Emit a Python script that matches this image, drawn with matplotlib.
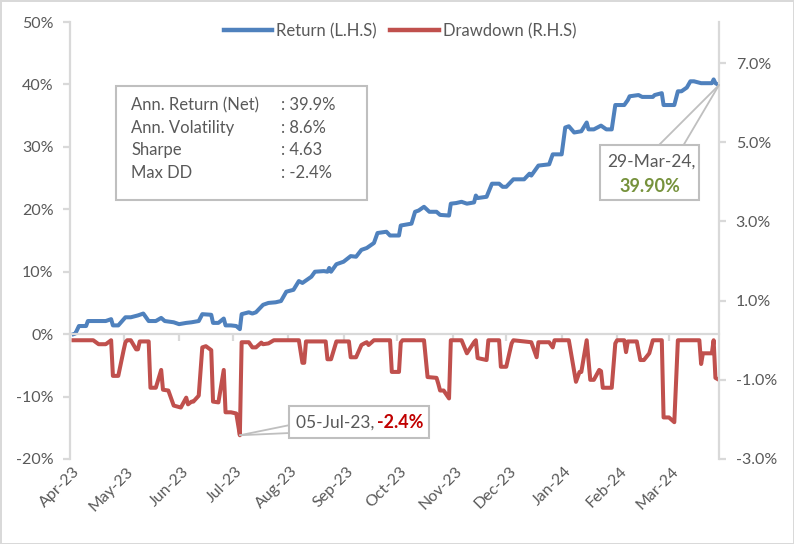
import matplotlib
matplotlib.use("Agg")
import matplotlib.pyplot as plt
import matplotlib.dates as mdates
import matplotlib.transforms as mtransforms
from matplotlib.patches import Rectangle, ConnectionPatch
from matplotlib.lines import Line2D
import pandas as pd

plt.rcParams['font.family'] = ['Lato', 'DejaVu Sans']
plt.rcParams['axes.unicode_minus'] = False

# cumulative return, % (left axis)
ret_dates = ['2023-04-03', '2023-04-04', '2023-04-06', '2023-04-10', '2023-04-11', '2023-04-21',
             '2023-04-24', '2023-04-25', '2023-04-28', '2023-05-02', '2023-05-05', '2023-05-09',
             '2023-05-12', '2023-05-15', '2023-05-19', '2023-05-22', '2023-05-24', '2023-05-29',
             '2023-06-01', '2023-06-05', '2023-06-08', '2023-06-12', '2023-06-14', '2023-06-19',
             '2023-06-20', '2023-06-23', '2023-06-26', '2023-06-27', '2023-06-30', '2023-07-03',
             '2023-07-05', '2023-07-06', '2023-07-10', '2023-07-12', '2023-07-14', '2023-07-18',
             '2023-07-21', '2023-07-25', '2023-07-28', '2023-07-31', '2023-08-04', '2023-08-07',
             '2023-08-09', '2023-08-14', '2023-08-16', '2023-08-21', '2023-08-23', '2023-08-24',
             '2023-08-25', '2023-08-28', '2023-09-01', '2023-09-05', '2023-09-08', '2023-09-11',
             '2023-09-14', '2023-09-18', '2023-09-20', '2023-09-25', '2023-09-27', '2023-10-02',
             '2023-10-03', '2023-10-09', '2023-10-11', '2023-10-13', '2023-10-16', '2023-10-19',
             '2023-10-23', '2023-10-25', '2023-10-30', '2023-10-31', '2023-11-03', '2023-11-06',
             '2023-11-09', '2023-11-13', '2023-11-14', '2023-11-15', '2023-11-20', '2023-11-23',
             '2023-11-27', '2023-11-29', '2023-12-01', '2023-12-05', '2023-12-11', '2023-12-14',
             '2023-12-15', '2023-12-19', '2023-12-25', '2023-12-27', '2024-01-01', '2024-01-03',
             '2024-01-05', '2024-01-08', '2024-01-12', '2024-01-15', '2024-01-16', '2024-01-19',
             '2024-01-23', '2024-01-26', '2024-01-29', '2024-01-31', '2024-02-05', '2024-02-07',
             '2024-02-08', '2024-02-13', '2024-02-15', '2024-02-21', '2024-02-22', '2024-02-26',
             '2024-02-27', '2024-03-04', '2024-03-06', '2024-03-08', '2024-03-11', '2024-03-13',
             '2024-03-15', '2024-03-19', '2024-03-25', '2024-03-26', '2024-03-27', '2024-03-29']
ret_vals = [0.0, 0.1, 1.3, 1.3, 2.1, 2.1,
            2.4, 1.4, 1.4, 2.7, 2.7, 3.0,
            3.3, 2.1, 2.1, 2.6, 2.1, 1.9,
            1.6, 1.8, 1.9, 2.1, 3.2, 3.1,
            1.8, 1.8, 2.5, 1.4, 1.4, 1.3,
            0.8, 3.2, 3.5, 3.3, 3.5, 4.7,
            5.0, 5.1, 5.3, 6.8, 7.1, 8.5,
            8.2, 9.2, 10.0, 10.1, 10.0, 10.6,
            10.0, 11.2, 11.6, 12.5, 12.4, 13.5,
            13.8, 14.6, 16.2, 16.4, 15.8, 15.8,
            17.4, 17.7, 19.6, 19.8, 20.4, 19.6,
            19.6, 19.1, 19.0, 20.9, 21.0, 21.2,
            20.9, 21.1, 22.2, 21.8, 22.0, 24.1,
            24.1, 23.6, 23.6, 24.8, 24.8, 25.7,
            25.4, 27.0, 27.2, 28.8, 28.8, 33.1,
            33.3, 32.3, 32.5, 33.9, 32.8, 32.8,
            33.4, 32.8, 32.8, 36.7, 36.7, 37.5,
            38.1, 38.3, 38.0, 38.0, 38.3, 38.6,
            36.7, 36.7, 38.9, 38.9, 39.5, 40.5,
            40.5, 40.2, 40.2, 40.8, 40.2, 39.9]

# drawdown, % (right axis)
dd_dates = ['2023-04-03', '2023-04-14', '2023-04-17', '2023-04-21', '2023-04-24', '2023-04-25',
            '2023-04-28', '2023-05-01', '2023-05-02', '2023-05-03', '2023-05-05', '2023-05-08',
            '2023-05-09', '2023-05-10', '2023-05-15', '2023-05-16', '2023-05-19', '2023-05-22',
            '2023-05-23', '2023-05-26', '2023-05-29', '2023-06-02', '2023-06-05', '2023-06-06',
            '2023-06-08', '2023-06-09', '2023-06-12', '2023-06-14', '2023-06-16', '2023-06-19',
            '2023-06-20', '2023-06-23', '2023-06-26', '2023-06-27', '2023-06-30', '2023-07-03',
            '2023-07-05', '2023-07-06', '2023-07-10', '2023-07-12', '2023-07-14', '2023-07-17',
            '2023-07-18', '2023-07-21', '2023-07-24', '2023-08-07', '2023-08-09', '2023-08-10',
            '2023-08-11', '2023-08-22', '2023-08-23', '2023-08-25', '2023-08-28', '2023-09-04',
            '2023-09-05', '2023-09-08', '2023-09-11', '2023-09-13', '2023-09-14', '2023-09-15',
            '2023-09-18', '2023-09-27', '2023-09-28', '2023-10-02', '2023-10-03', '2023-10-04',
            '2023-10-16', '2023-10-18', '2023-10-23', '2023-10-24', '2023-10-25', '2023-10-27',
            '2023-10-30', '2023-10-31', '2023-11-06', '2023-11-09', '2023-11-13', '2023-11-14',
            '2023-11-15', '2023-11-20', '2023-11-21', '2023-11-27', '2023-11-28', '2023-12-01',
            '2023-12-04', '2023-12-05', '2023-12-15', '2023-12-18', '2023-12-19', '2023-12-25',
            '2023-12-27', '2023-12-28', '2024-01-05', '2024-01-09', '2024-01-11', '2024-01-12',
            '2024-01-15', '2024-01-17', '2024-01-19', '2024-01-22', '2024-01-23', '2024-01-24',
            '2024-01-29', '2024-01-31', '2024-02-01', '2024-02-05', '2024-02-06', '2024-02-07',
            '2024-02-12', '2024-02-14', '2024-02-16', '2024-02-19', '2024-02-21', '2024-02-26',
            '2024-02-27', '2024-03-01', '2024-03-04', '2024-03-06', '2024-03-18', '2024-03-19',
            '2024-03-20', '2024-03-25', '2024-03-26', '2024-03-27', '2024-03-29']
dd_vals = [0.0, 0.0, -0.1, -0.1, 0.0, -0.9,
           -0.9, -0.25, -0.05, 0.0, 0.0, -0.23,
           -0.23, -0.03, -0.03, -1.2, -1.2, -0.75,
           -1.25, -1.27, -1.65, -1.7, -1.45, -1.62,
           -1.55, -1.55, -1.4, -0.18, -0.15, -0.25,
           -1.55, -1.57, -0.75, -1.82, -1.82, -1.85,
           -2.4, -0.05, -0.05, -0.18, -0.18, -0.06,
           -0.1, -0.08, 0.0, 0.0, -0.57, -0.57,
           -0.03, -0.03, -0.48, -0.48, -0.03, -0.03,
           -0.43, -0.43, -0.12, -0.07, -0.05, -0.12,
           0.0, 0.0, -0.8, -0.8, -0.06, 0.0,
           0.0, -0.93, -0.95, -1.1, -1.27, -1.27,
           -1.47, 0.0, 0.0, -0.33, -0.05, 0.0,
           -0.45, -0.5, 0.0, 0.0, -0.67, -0.67,
           -0.08, 0.0, -0.05, -0.43, -0.05, -0.05,
           -0.18, 0.0, 0.0, -1.05, -0.8, -0.8,
           0.0, -1.0, -1.0, -0.75, -0.78, -1.2,
           -1.2, -0.08, 0.0, 0.0, -0.3, -0.03,
           -0.03, -0.5, -0.5, -0.33, 0.0, 0.0,
           -1.95, -1.95, -2.07, 0.0, 0.0, -0.6,
           -0.33, -0.33, 0.0, -0.95, -1.0]

month_labels = ['Apr-23', 'May-23', 'Jun-23', 'Jul-23', 'Aug-23', 'Sep-23',
                'Oct-23', 'Nov-23', 'Dec-23', 'Jan-24', 'Feb-24', 'Mar-24']
month_starts = pd.date_range('2023-04-01', periods=12, freq='MS')

stat_names = ['Ann. Return (Net)', 'Ann. Volatility', 'Sharpe', 'Max DD']
stat_values = [': 39.9%', ': 8.6%', ': 4.63', ': -2.4%']

last_date, last_ret = '2024-03-29', 39.9
mdd_date, mdd_val = '2023-07-05', -2.4

ret_dates = pd.to_datetime(ret_dates)
dd_dates = pd.to_datetime(dd_dates)

BLUE = '#4F81BD'
RED = '#C0504D'
GRID = '#D9D9D9'
TXT = '#595959'
BOX = '#BFBFBF'

W, H = 794, 544
fig = plt.figure(figsize=(W / 100, H / 100), dpi=100)
fig.patch.set_edgecolor(GRID)
fig.patch.set_linewidth(2)

ax = fig.add_axes([70 / W, 1 - 459 / H, (719 - 70) / W, (459 - 22) / H])
ax2 = ax.twinx()

ax.plot(ret_dates, ret_vals, color=BLUE, lw=2.9, solid_joinstyle='round')
ax2.plot(dd_dates, dd_vals, color=RED, lw=2.9, solid_joinstyle='round')

ax.set_xlim(pd.Timestamp('2023-04-01'), pd.Timestamp('2024-03-29'))
ax.set_ylim(-20, 50)
ax2.set_ylim(-3, 8.04)

ax.set_yticks(range(-20, 51, 10))
ax.set_yticklabels([f'{v}%' for v in range(-20, 51, 10)])
r_ticks = [-3, -1, 1, 3, 5, 7]
ax2.set_yticks(r_ticks)
ax2.set_yticklabels([f'{v:.1f}%' for v in r_ticks])

for s in ['top', 'right']:
    ax.spines[s].set_visible(False)
for s in ['top', 'left', 'bottom']:
    ax2.spines[s].set_visible(False)
ax.spines['bottom'].set_position(('data', 0))
for a, s in [(ax, 'left'), (ax, 'bottom'), (ax2, 'right')]:
    a.spines[s].set_color(GRID)
    a.spines[s].set_linewidth(1.6)

ax.set_xticks(month_starts)
ax.tick_params(axis='x', labelbottom=False, direction='out', length=5, width=1.6, color=GRID)
ax.tick_params(axis='y', length=5, width=1.6, color=GRID, labelcolor=TXT, labelsize=11.5, pad=7)
ax2.tick_params(axis='y', length=5, width=1.6, color=GRID, labelcolor=TXT, labelsize=11.5, pad=7)

# month labels sit at the bottom of the plot, not on the zero line
trans = mtransforms.blended_transform_factory(ax.transData, ax.transAxes)
for m, lab in zip(month_starts, month_labels):
    ax.text(mdates.date2num(m) + 1.5, -0.012, lab, transform=trans, rotation=45, ha='right',
            va='top', rotation_mode='anchor', fontsize=11.5, color=TXT)

# legend
handles = [Line2D([], [], color=BLUE, lw=3.2), Line2D([], [], color=RED, lw=3.2)]
fig.legend(handles, ['Return (L.H.S)', 'Drawdown (R.H.S)'], loc='center',
           bbox_to_anchor=(400 / W, 1 - 31 / H), ncol=2, frameon=False, fontsize=12,
           handlelength=2.9, handletextpad=0.25, columnspacing=0.8, labelcolor=TXT)


def px(x, y):
    return (x, H - y)


# stats box
fig.add_artist(Rectangle(px(116, 200), 251, 114, transform=None, fc='white', ec=BOX,
                         lw=1.5, zorder=5))
for i, (n, v) in enumerate(zip(stat_names, stat_values)):
    yy = 105 + i * 22.6
    fig.text(131 / W, 1 - yy / H, n, ha='left', va='center', fontsize=12, color=TXT, zorder=6)
    fig.text(281 / W, 1 - yy / H, v, ha='left', va='center', fontsize=12, color=TXT, zorder=6)

# callout: last value
tip1 = (mdates.date2num(pd.Timestamp(last_date)), last_ret)
for bx in (658, 683):
    fig.add_artist(ConnectionPatch(xyA=px(bx, 146), coordsA='figure pixels',
                                   xyB=tip1, coordsB=ax.transData,
                                   color=BOX, lw=1.3, zorder=4))
fig.add_artist(Rectangle(px(600, 200), 99, 55, transform=None, fc='white', ec=BOX,
                         lw=1.5, zorder=5))
fig.text(651 / W, 1 - 162 / H, pd.Timestamp(last_date).strftime('%d-%b-%y') + ',',
         ha='center', va='center', fontsize=12.5, color=TXT, zorder=6)
fig.text(650 / W, 1 - 186 / H, f'{last_ret:.2f}%', ha='center', va='center',
         fontsize=13, color='#76923C', fontweight='bold', zorder=6)

# callout: max drawdown
tip2 = (mdates.date2num(pd.Timestamp(mdd_date)), mdd_val)
for by in (425, 433):
    fig.add_artist(ConnectionPatch(xyA=px(290, by), coordsA='figure pixels',
                                   xyB=tip2, coordsB=ax2.transData,
                                   color=BOX, lw=1.3, zorder=4))
fig.add_artist(Rectangle(px(289, 438), 140, 32, transform=None, fc='white', ec=BOX,
                         lw=1.5, zorder=5))
fig.text(296 / W, 1 - 423 / H, pd.Timestamp(mdd_date).strftime('%d-%b-%y') + ', ',
         ha='left', va='center', fontsize=12.5, color=TXT, zorder=6)
fig.text(377 / W, 1 - 423 / H, f'{mdd_val:.1f}%', ha='left', va='center', fontsize=13,
         color='#C00000', fontweight='bold', zorder=6)

fig.savefig('out.png', dpi=100)
